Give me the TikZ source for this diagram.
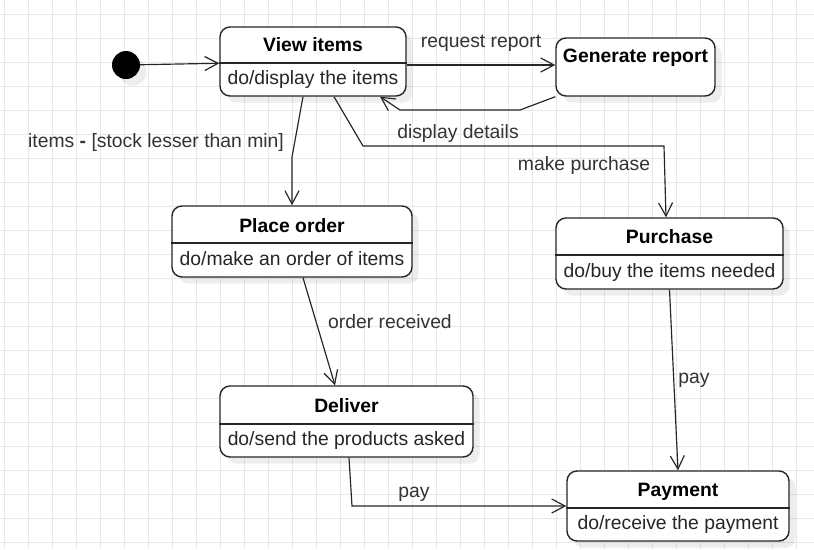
\documentclass[tikz,border=0pt]{standalone}
\usepackage{fontspec}
\setmainfont{Liberation Sans}
\usetikzlibrary{arrows.meta, shadows}

\begin{document}
\begin{tikzpicture}[
  x=0.03cm, y=-0.03cm,
  font=\fontsize{16.5}{19}\selectfont,
  gridline/.style={draw=black!9, line width=0.6pt},
  softshadow/.style={drop shadow={shadow xshift=0.2cm, shadow yshift=-0.2cm,
               fill=black, opacity=0.07}},
  state/.style={draw=black!85, line width=1.2pt, rounded corners=0.3cm,
               fill=white, softshadow},
  divider/.style={draw=black!85, line width=1.2pt},
  title/.style={anchor=base, inner sep=0pt, font=\fontsize{16.5}{19}\selectfont\bfseries},
  body/.style={anchor=base, inner sep=0pt, text=black!85},
  lbl/.style={anchor=base, inner sep=0pt, text=black!80},
  trans/.style={-{Straight Barb[length=0.4cm, width=0.42cm]}, draw=black!85, line width=1pt}
]
  \useasboundingbox (0,0) rectangle (814,549);
  \fill[white] (0,0) rectangle (814,549);
  % background grid
  \foreach \gx in {4,28,...,796} \draw[gridline] (\gx,0) -- (\gx,549);
  \foreach \gy in {14,38,...,542} \draw[gridline] (0,\gy) -- (814,\gy);

  % states
  \node[circle, fill=black, minimum size=0.84cm, inner sep=0pt, softshadow] (init) at (126,65) {};

  \node[state, minimum width=5.58cm, minimum height=2.07cm] (view) at (313,61.5) {};
  \draw[divider] (view.west |- 0,63) -- (view.east |- 0,63);
  \node[title] (viewT) at (313,51) {View items};
  \node[body]  (viewB) at (313,84) {do/display the items};

  \node[state, minimum width=4.77cm, minimum height=1.74cm] (gen) at (635.5,67) {};
  \node[title] (genT) at (635.5,62) {Generate report};

  \node[state, minimum width=7.2cm, minimum height=2.13cm] (place) at (292,241.5) {};
  \draw[divider] (place.west |- 0,243) -- (place.east |- 0,243);
  \node[title] (placeT) at (292,232) {Place order};
  \node[body]  (placeB) at (292,265) {do/make an order of items};

  \node[state, minimum width=6.81cm, minimum height=2.13cm] (purchase) at (669.5,253.5) {};
  \draw[divider] (purchase.west |- 0,255) -- (purchase.east |- 0,255);
  \node[title] (purchaseT) at (669.5,243) {Purchase};
  \node[body]  (purchaseB) at (669.5,277) {do/buy the items needed};

  \node[state, minimum width=7.59cm, minimum height=2.13cm] (deliver) at (346.5,421.5) {};
  \draw[divider] (deliver.west |- 0,424) -- (deliver.east |- 0,424);
  \node[title] (deliverT) at (346.5,412) {Deliver};
  \node[body]  (deliverB) at (346.5,445) {do/send the products asked};

  \node[state, minimum width=6.66cm, minimum height=2.1cm] (payment) at (678,506) {};
  \draw[divider] (payment.west |- 0,508) -- (payment.east |- 0,508);
  \node[title] (paymentT) at (678,496) {Payment};
  \node[body]  (paymentB) at (678,529) {do/receive the payment};

  % transitions
  \draw[trans] (init) -- (view);
  \draw[trans] (view.east |- 0,65) -- (gen.west |- 0,65);
  \draw[trans] (gen.south west) -- (520,110) -- (400,110) -- (view.south -| 380,0);
  \draw[trans] (view.south -| 334,0) -- (363,146) -- (664,146) -- (purchase.north -| 666,0);
  \draw[trans] (view.south -| 303,0) -- (292,157) -- (place.north);
  \draw[trans] (place.south -| 303,0) -- (deliver.north -| 335,0);
  \draw[trans] (purchase.south) -- (payment.north);
  \draw[trans] (deliver.south -| 349,0) -- (352,506) -- (payment.west);

  % transition labels
  \node[lbl] (lreq)  at (481,47)  {request report};
  \node[lbl] (ldet)  at (458,138) {display details};
  \node[lbl] (lbuy)  at (584,170) {make purchase};
  \node[lbl] (lmin)  at (156,147) {items \textbf{-} [stock lesser than min]};
  \node[lbl] (lrecv) at (390,328) {order received};
  \node[lbl] (lpay)  at (694,383) {pay};
  \node[lbl] (lpay2) at (414,497) {pay};
\end{tikzpicture}
\end{document}
